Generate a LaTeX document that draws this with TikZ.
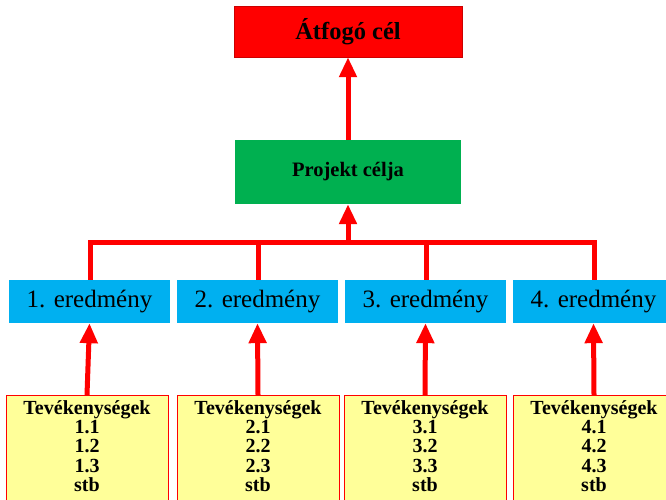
\documentclass[tikz,border=0pt]{standalone}
\usepackage{fontspec}
\setmainfont{Liberation Serif}
\usetikzlibrary{arrows.meta}
\definecolor{topred}{HTML}{FF0000}
\definecolor{projgreen}{HTML}{00B050}
\definecolor{resblue}{HTML}{00B0F0}
\definecolor{actyellow}{HTML}{FFFF99}
\tikzset{
  goalbox/.style={fill=topred, draw=topred!80!black, line width=0.5pt, minimum width=228pt, minimum height=51pt, inner sep=0pt,
    font=\fontsize{24.5}{27}\selectfont\bfseries},
  projbox/.style={fill=projgreen, draw=none, minimum width=226pt, minimum height=64pt, inner sep=0pt,
    font=\fontsize{20.5}{23}\selectfont\bfseries},
  resbox/.style={fill=resblue, draw=none, minimum width=161pt, minimum height=43pt, inner sep=0pt,
    font=\fontsize{25}{27}\selectfont},
  actbox/.style={fill=actyellow, draw=topred, line width=0.8pt, minimum width=162pt, minimum height=125pt, inner sep=0pt, anchor=north},
  acttext/.style={anchor=north, align=center, inner sep=0pt, font=\fontsize{20}{19.3}\selectfont\bfseries},
  conn/.style={draw=topred, line width=5pt, line join=miter},
  arr/.style={conn, -{Triangle[width=17pt,length=20pt]}},
}
\begin{document}
\begin{tikzpicture}[x=1pt,y=-1pt]
\useasboundingbox (0,0) rectangle (666,500);
\clip (0,0) rectangle (666,500);
\fill[white] (0,0) rectangle (666,500);

\node[goalbox] (goal) at (348,31.5) {Átfogó cél};
\node[projbox] (proj) at (348,172) {Projekt célja};

\node[resbox] (r1) at (89.5,301.5) {1. eredmény};
\node[resbox] (r2) at (257.5,301.5) {2. eredmény};
\node[resbox] (r3) at (425.5,301.5) {3. eredmény};
\node[resbox] (r4) at (593.5,301.5) {4. eredmény};

\node[actbox] (a1) at (87,395) {};
\node[actbox] (a2) at (258,395) {};
\node[actbox] (a3) at (425,395) {};
\node[actbox] (a4) at (594,395) {};

\node[acttext] (t1) at (87,400) {Tevékenységek\\1.1\\1.2\\1.3\\stb};
\node[acttext] (t2) at (258,400) {Tevékenységek\\2.1\\2.2\\2.3\\stb};
\node[acttext] (t3) at (425,400) {Tevékenységek\\3.1\\3.2\\3.3\\stb};
\node[acttext] (t4) at (594,400) {Tevékenységek\\4.1\\4.2\\4.3\\stb};

\coordinate (bar) at (348,242.5);

% tree connector
\path[conn] ([xshift=0.5pt]r1.north) -- ([xshift=0.5pt]r1.north |- bar) -- ([xshift=0.5pt]r4.north |- bar) -- ([xshift=0.5pt]r4.north);
\path[conn] ([xshift=0.5pt]r2.north) -- ([xshift=0.5pt]r2.north |- bar);
\path[conn] ([xshift=0.5pt]r3.north) -- ([xshift=0.5pt]r3.north |- bar);
\path[arr] ([yshift=2.5pt]bar) -- (proj.south);
\path[arr] (proj.north) -- (goal.south);

% activities to results
\path[arr] (a1.north) -- (r1.south);
\path[arr] (a2.north) -- (r2.south);
\path[arr] (a3.north) -- (r3.south);
\path[arr] (a4.north) -- (r4.south);
\end{tikzpicture}
\end{document}
